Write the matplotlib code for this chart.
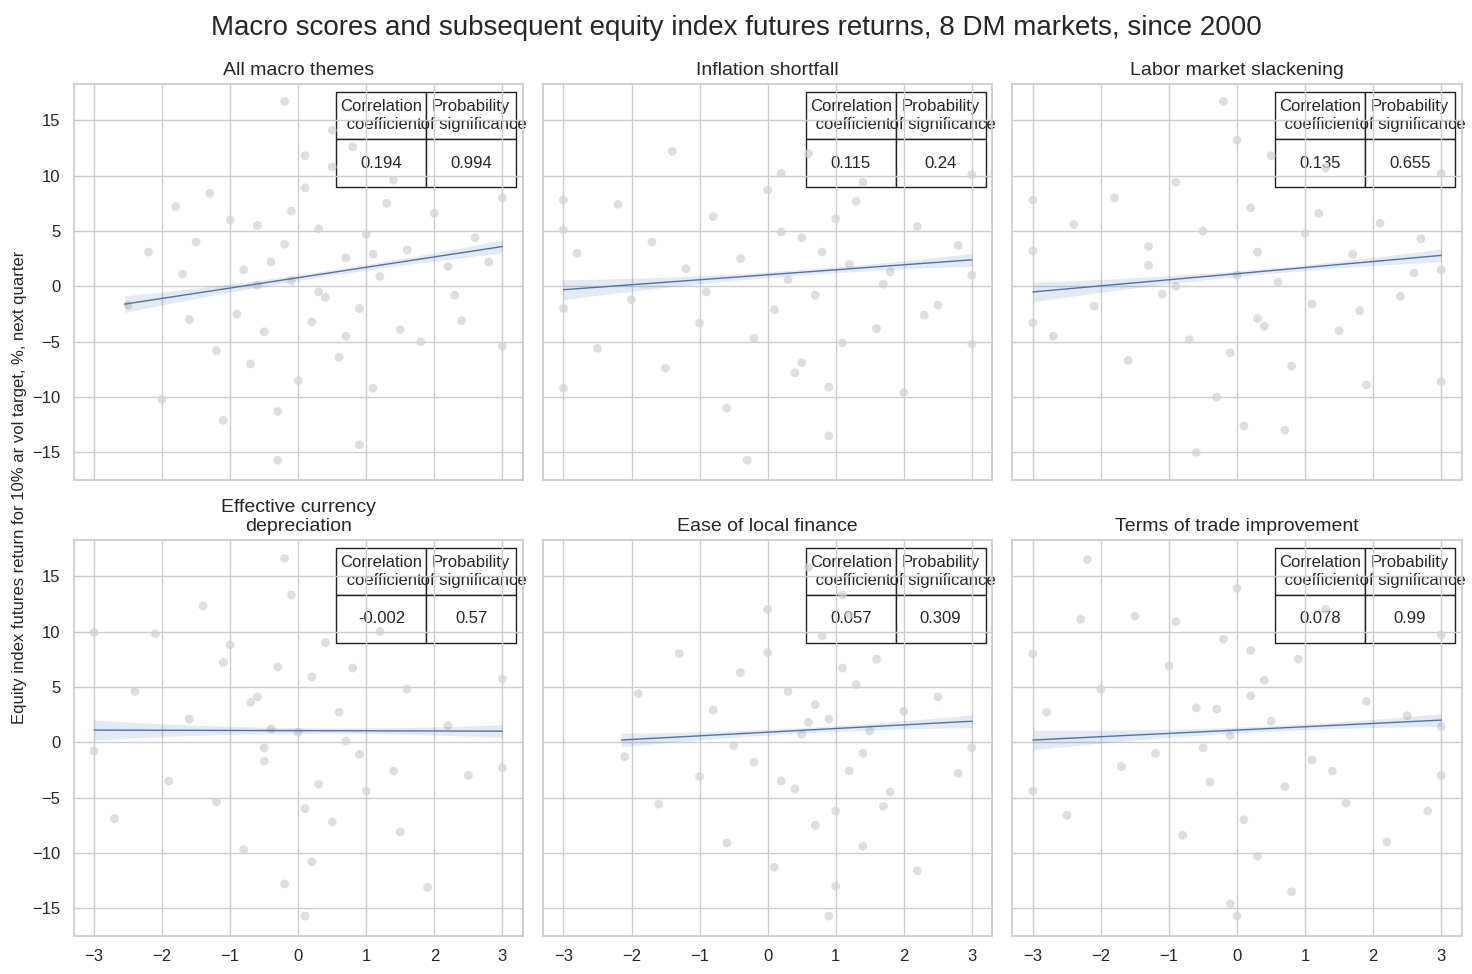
import matplotlib
matplotlib.use("Agg")
import matplotlib.pyplot as plt
import seaborn as sns
import numpy as np

sns.set_theme(style="whitegrid", font="Liberation Sans")

titles = ["All macro themes", "Inflation shortfall", "Labor market slackening",
          "Effective currency\ndepreciation", "Ease of local finance", "Terms of trade improvement"]
corr = ["0.194", "0.115", "0.135", "-0.002", "0.057", "0.078"]
prob = ["0.994", "0.24", "0.655", "0.57", "0.309", "0.99"]

# fitted line endpoints: (x0, y0, x1, y1)
lines = [(-2.55, -1.6, 3.0, 3.6), (-3.0, -0.3, 3.0, 2.4), (-3.0, -0.5, 3.0, 2.8),
         (-3.0, 1.1, 3.0, 1.0), (-2.15, 0.2, 3.0, 1.9), (-3.0, 0.2, 3.0, 2.0)]

# representative sample of scatter points
xs = [
 [-2.5,-2.2,-2.0,-1.8,-1.6,-1.5,-1.3,-1.2,-1.0,-0.9,-0.8,-0.7,-0.6,-0.5,-0.4,-0.3,-0.2,-0.1,0.0,0.1,0.2,0.3,0.4,0.5,0.6,0.7,0.8,0.9,1.0,1.1,1.2,1.3,1.5,1.6,1.8,2.0,2.2,2.4,2.6,2.8,3.0,3.0,-1.1,-0.2,0.1,0.3,0.9,-0.6,1.4,-0.3,0.5,0.7,-1.7,2.3,-0.1,1.1],
 [-3.0,-3.0,-3.0,-3.0,-2.8,-2.5,-2.2,-2.0,-1.7,-1.5,-1.2,-1.0,-0.8,-0.6,-0.4,-0.2,0.0,0.1,0.2,0.3,0.4,0.5,0.6,0.7,0.8,0.9,1.0,1.1,1.2,1.4,1.6,1.8,2.0,2.2,2.5,2.8,3.0,3.0,3.0,-0.3,0.5,1.3,-1.4,0.9,1.7,-0.9,0.2,2.3],
 [-3.0,-3.0,-3.0,-2.7,-2.4,-2.1,-1.8,-1.6,-1.3,-1.1,-0.9,-0.7,-0.5,-0.3,-0.2,0.0,0.1,0.2,0.3,0.5,0.6,0.8,1.0,1.1,1.3,1.5,1.7,1.9,2.1,2.4,2.7,3.0,3.0,3.0,-0.6,0.0,0.4,-1.3,0.7,1.2,-0.1,-0.9,0.3,1.8,2.6],
 [-3.0,-3.0,-2.7,-2.4,-2.1,-1.9,-1.6,-1.4,-1.2,-1.0,-0.8,-0.6,-0.5,-0.3,-0.2,-0.1,0.0,0.1,0.2,0.3,0.4,0.5,0.6,0.8,1.0,1.2,1.4,1.6,1.9,2.2,2.5,3.0,3.0,-0.4,0.2,-0.7,0.7,-0.2,0.1,0.9,-1.1,1.5,-0.5],
 [-2.1,-1.9,-1.6,-1.3,-1.0,-0.8,-0.6,-0.4,-0.2,0.0,0.1,0.3,0.4,0.6,0.7,0.8,0.9,1.0,1.1,1.2,1.3,1.4,1.5,1.6,1.8,2.0,2.2,2.5,2.8,3.0,0.5,0.9,1.2,0.2,0.7,1.1,1.4,-0.5,0.0,1.7,0.6,1.0],
 [-3.0,-3.0,-2.8,-2.5,-2.2,-2.0,-1.7,-1.5,-1.2,-1.0,-0.8,-0.6,-0.4,-0.2,-0.1,0.0,0.1,0.2,0.3,0.5,0.7,0.9,1.1,1.3,1.6,1.9,2.2,2.5,2.8,3.0,3.0,3.0,-0.3,0.0,0.2,-0.5,0.4,-0.9,0.8,1.4,-2.3,-0.1],
]
ys = [
 [-1.7,3.1,-10.2,7.2,-3.0,4.0,8.4,-5.8,6.0,-2.5,1.5,-7.0,5.5,-4.1,2.2,-11.3,3.8,0.5,-8.5,8.9,-3.2,5.2,-1.0,10.8,-6.4,2.6,12.6,-2.0,4.7,-9.2,0.9,7.5,-3.9,3.3,-5.0,6.6,1.8,-3.1,4.4,2.2,8.0,-5.4,-12.1,16.7,11.8,-0.5,-14.3,0.1,9.6,-15.7,14.1,-4.5,1.1,-0.8,6.8,2.9],
 [7.8,-2.0,5.1,-9.2,3.0,-5.6,7.4,-1.2,4.0,-7.4,1.6,-3.3,6.3,-11.0,2.5,-4.7,8.7,-2.1,10.2,0.6,-7.8,4.4,12.0,-0.8,3.1,-13.5,6.1,-5.1,2.0,9.4,-3.8,1.3,-9.6,5.4,-1.7,3.7,10.1,-5.2,1.0,-15.7,-6.9,7.7,12.2,-9.1,0.2,-0.5,4.9,-2.6],
 [7.8,-3.3,3.2,-4.5,5.6,-1.8,8.0,-6.7,3.6,-0.7,9.4,-4.8,5.0,-10.0,16.7,1.0,-12.6,7.1,-2.9,11.8,0.4,-7.2,4.8,-1.6,10.7,-4.0,2.9,-8.9,5.7,-0.9,4.3,10.2,-8.6,1.5,-15.0,13.2,-3.6,1.9,-13.0,6.6,-6.0,0.0,3.1,-2.2,1.2],
 [9.9,-0.8,-6.9,4.6,9.8,-3.5,2.1,12.3,-5.4,8.8,-9.7,4.1,-1.7,6.8,-12.8,13.3,0.9,-15.7,5.9,-3.8,9.0,-7.2,2.7,6.7,-4.4,10.0,-2.6,4.8,-13.1,1.5,-3.0,5.7,-2.3,1.2,-10.8,3.6,0.1,16.6,-6.0,-1.1,7.2,-8.1,-0.5],
 [-1.3,4.4,-5.6,8.0,-3.1,2.9,-9.1,6.3,-1.8,12.0,-11.3,4.6,-4.2,15.8,-7.5,9.6,2.1,-6.2,13.3,-2.6,5.2,-9.4,1.0,7.5,-4.5,2.8,-11.6,4.1,-2.8,-0.5,0.7,-15.7,11.5,-3.5,3.4,6.7,-1.0,-0.3,8.1,-5.8,1.8,-13.0],
 [8.0,-4.4,2.7,-6.6,16.5,4.8,-2.2,11.4,-1.0,6.9,-8.4,3.1,-3.6,9.3,-14.6,13.9,-7.0,4.2,-10.3,1.9,-4.0,7.5,-1.6,12.0,-5.5,3.7,-9.0,2.4,-6.2,9.7,-3.0,1.4,3.0,-15.7,8.3,-0.5,5.6,10.9,-13.5,-2.6,11.1,0.6],
]

fig, axes = plt.subplots(2, 3, figsize=(14.72, 9.74), dpi=100, sharex=True, sharey=True)
for i, ax in enumerate(axes.flat):
    ax.scatter(xs[i], ys[i], color="#d3d3d3", alpha=0.75, s=40, edgecolor="none")
    x0, y0, x1, y1 = lines[i]
    xl = np.array([x0, x1]); yl = np.array([y0, y1])
    ax.plot(xl, yl, color="#4c72b0", lw=1)
    xx = np.linspace(x0, x1, 50)
    yy = y0 + (y1 - y0) * (xx - x0) / (x1 - x0)
    w = 0.25 + 0.12 * ((xx - 0.5) / 3) ** 2 * 4
    ax.fill_between(xx, yy - w, yy + w, color="#4c72b0", alpha=0.15, lw=0)
    ax.set_title(titles[i], fontsize=14)
    tb = ax.table(cellText=[[corr[i], prob[i]]],
                  colLabels=["Correlation\n coefficient", "Probability\n of significance"],
                  cellLoc="center", bbox=[0.585, 0.74, 0.40, 0.24])
    tb.auto_set_font_size(False)
    tb.set_fontsize(12)
    for (r, c), cell in tb.get_celld().items():
        cell.set_edgecolor("#222222")
    ax.tick_params(labelsize=12)

axes[0, 0].set_xlim(-3.3, 3.3)
axes[0, 0].set_ylim(-17.5, 18.3)
axes[0, 0].set_xticks([-3, -2, -1, 0, 1, 2, 3])
axes[0, 0].set_yticks([-15, -10, -5, 0, 5, 10, 15])
fig.suptitle("Macro scores and subsequent equity index futures returns, 8 DM markets, since 2000",
             fontsize=20, y=0.985)
fig.supylabel("Equity index futures return for 10% ar vol target, %, next quarter", fontsize=12, x=0.008)
fig.subplots_adjust(left=0.05, right=0.993, top=0.914, bottom=0.039, wspace=0.045, hspace=0.15)
fig.savefig("out.png", dpi=100)
